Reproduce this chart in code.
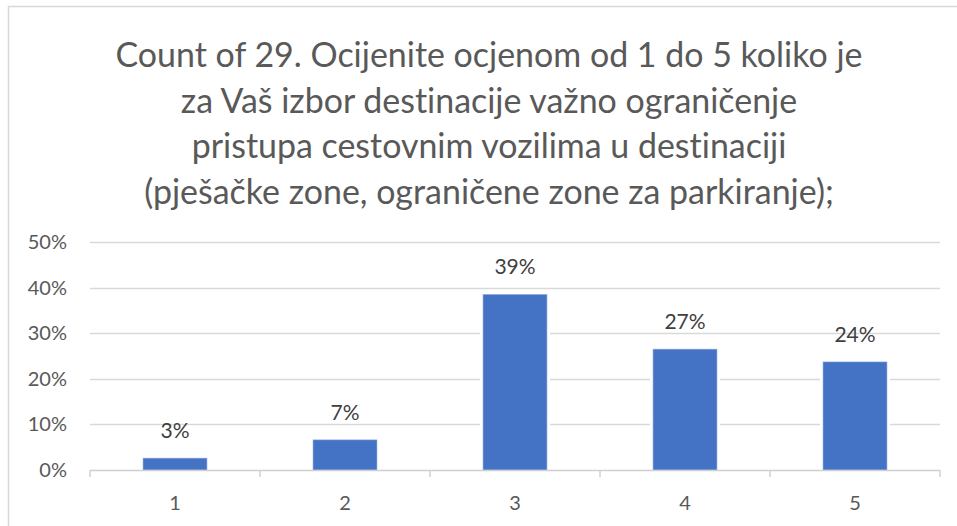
<!DOCTYPE html>
<html>
<head>
<meta charset="utf-8">
<script src="https://cdn.jsdelivr.net/npm/d3@7"></script>
<style>
  body { margin: 0; background: #fff; }
  text { font-family: Lato, "Open Sans", sans-serif; font-variant-ligatures: none; }
</style>
</head>
<body>
<div id="chart"></div>
<script>
const width = 957;
const height = 526;
const margin = { top: 242, right: 17, bottom: 56, left: 90 };

const titleLines = [
  "Count of 29. Ocijenite ocjenom od 1 do 5 koliko je",
  "za Vaš izbor destinacije važno ograničenje",
  "pristupa cestovnim vozilima u destinaciji",
  "(pješačke zone, ograničene zone za parkiranje);"
];
const categories = ["1", "2", "3", "4", "5"];
const shares = [0.026, 0.066, 0.385, 0.265, 0.237];
const labels = ["3%", "7%", "39%", "27%", "24%"];
const yTicks = [0, 0.1, 0.2, 0.3, 0.4, 0.5];

const svg = d3
  .select("#chart")
  .append("svg")
  .attr("width", width)
  .attr("height", height);

// chart border
svg
  .append("rect")
  .attr("x", 8.5)
  .attr("y", 6.5)
  .attr("width", width)
  .attr("height", height)
  .attr("fill", "#fff")
  .attr("stroke", "#d9d9d9")
  .attr("stroke-width", 1.5);

// title
const title = svg
  .append("g")
  .attr("fill", "#595959")
  .attr("text-anchor", "middle");
title
  .selectAll("text")
  .data(titleLines)
  .join("text")
  .attr("x", 489)
  .attr("y", (d, i) => 67 + i * 45.5)
  .style("font-size", "32px")
  .text((d) => d);
// fit first line to the width seen in the reference
const w0 = title.select("text").node().getComputedTextLength();
const fs = 32 * 747 / w0;
title.selectAll("text").style("font-size", fs + "px");

const x = d3
  .scaleBand()
  .domain(categories)
  .range([margin.left, width - margin.right])
  .paddingInner(0.624)
  .paddingOuter(0.312);

const y = d3
  .scaleLinear()
  .domain([0, 0.5])
  .range([height - margin.bottom, margin.top]);

// gridlines
svg
  .append("g")
  .selectAll("line")
  .data(yTicks.slice(1))
  .join("line")
  .attr("x1", margin.left)
  .attr("x2", width - margin.right)
  .attr("y1", (d) => Math.round(y(d)) + 0.5)
  .attr("y2", (d) => Math.round(y(d)) + 0.5)
  .attr("stroke", "#d9d9d9")
  .attr("stroke-width", 1.5);

// y labels
svg
  .append("g")
  .selectAll("text")
  .data(yTicks)
  .join("text")
  .attr("x", 67)
  .attr("y", (d) => y(d))
  .attr("dy", "0.35em")
  .attr("text-anchor", "end")
  .attr("fill", "#595959")
  .style("font-size", "20px")
  .text(d3.format(".0%"));

// bars with white halo
const bars = svg.append("g");
bars
  .selectAll("rect.halo")
  .data(shares)
  .join("rect")
  .attr("class", "halo")
  .attr("x", (d, i) => x(categories[i]) - 3)
  .attr("y", (d) => y(d) - 2)
  .attr("width", x.bandwidth() + 6)
  .attr("height", (d) => y(0) - y(d) + 2)
  .attr("fill", "#fff");
bars
  .selectAll("rect.bar")
  .data(shares)
  .join("rect")
  .attr("class", "bar")
  .attr("x", (d, i) => x(categories[i]))
  .attr("y", (d) => y(d))
  .attr("width", x.bandwidth())
  .attr("height", (d) => y(0) - y(d))
  .attr("fill", "#4472c4")
  .attr("stroke", "#8faadc")
  .attr("stroke-width", 0.6);

// x axis
const xAxis = d3
  .axisBottom(x)
  .tickSize(0)
  .tickPadding(26);
const gx = svg
  .append("g")
  .attr("transform", `translate(0,${y(0)})`)
  .call(xAxis);
gx.select(".domain").remove();
gx.selectAll("text")
  .attr("fill", "#595959")
  .style("font-size", "20px")
  .style("font-family", "Lato, sans-serif");
svg
  .append("line")
  .attr("x1", margin.left)
  .attr("x2", width - margin.right)
  .attr("y1", y(0) + 0.5)
  .attr("y2", y(0) + 0.5)
  .attr("stroke", "#d0d0d0")
  .attr("stroke-width", 1.5);
// category boundary ticks
const bounds = categories.map((c) => x(c) - x.step() * x.paddingOuter());
bounds.push(width - margin.right);
svg
  .append("g")
  .selectAll("line")
  .data(bounds)
  .join("line")
  .attr("x1", (d) => d)
  .attr("x2", (d) => d)
  .attr("y1", y(0))
  .attr("y2", y(0) + 7)
  .attr("stroke", "#d0d0d0")
  .attr("stroke-width", 1.5);

// data labels
svg
  .append("g")
  .selectAll("text")
  .data(shares)
  .join("text")
  .attr("x", (d, i) => x(categories[i]) + x.bandwidth() / 2)
  .attr("y", (d) => y(d) - 20)
  .attr("text-anchor", "middle")
  .attr("fill", "#404040")
  .style("font-size", "21px")
  .text((d, i) => labels[i]);
</script>
</body>
</html>
